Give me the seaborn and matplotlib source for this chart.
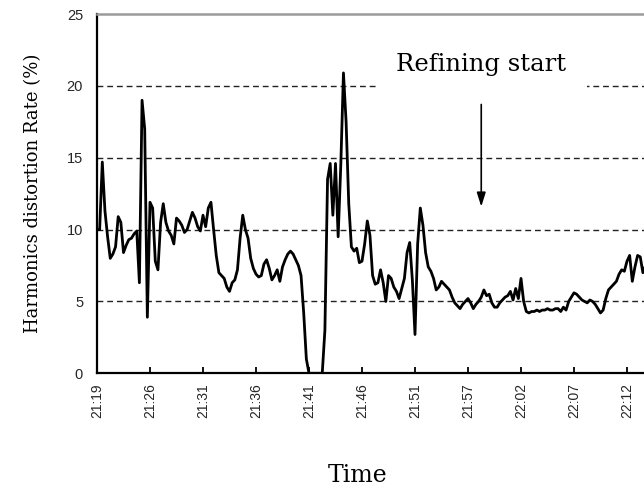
import numpy as np
import pandas as pd
import matplotlib
matplotlib.use("Agg")
import matplotlib.pyplot as plt
import seaborn as sns

# ---- data ----
tick_labels = ["21:19", "21:26", "21:31", "21:36", "21:41", "21:46",
               "21:51", "21:57", "22:02", "22:07", "22:12"]
samples_per_label = 20

distortion = [
    10.0, 10.0, 14.7, 11.3, 9.5, 8.0, 8.3, 8.8, 10.9, 10.5,
    8.4, 8.9, 9.3, 9.4, 9.7, 9.9, 6.3, 19.0, 17.0, 3.9,
    11.9, 11.5, 7.8, 7.2, 10.5, 11.8, 10.5, 9.9, 9.6, 9.0,
    10.8, 10.6, 10.3, 9.8, 10.0, 10.6, 11.2, 10.8, 10.2, 9.9,
    11.0, 10.2, 11.5, 11.9, 10.0, 8.2, 7.0, 6.8, 6.6, 6.0,
    5.7, 6.3, 6.5, 7.2, 9.4, 11.0, 10.0, 9.4, 8.0, 7.3,
    6.9, 6.7, 6.8, 7.6, 7.9, 7.3, 6.5, 6.8, 7.2, 6.4,
    7.4, 7.9, 8.3, 8.5, 8.3, 7.9, 7.5, 6.8, 4.2, 1.0,
    0.0, 0.0, 0.0, 0.0, 0.0, 0.0, 3.0, 13.5, 14.6, 11.0,
    14.6, 9.5, 14.5, 20.9, 17.5, 11.8, 8.8, 8.5, 8.7, 7.7,
    7.8, 9.0, 10.6, 9.6, 6.8, 6.2, 6.3, 7.2, 6.3, 5.0,
    6.8, 6.6, 6.0, 5.7, 5.2, 5.9, 6.6, 8.4, 9.1, 6.5,
    2.7, 9.0, 11.5, 10.3, 8.4, 7.4, 7.1, 6.6, 5.8, 6.0,
    6.4, 6.2, 6.0, 5.8, 5.3, 4.9, 4.7, 4.5, 4.8, 5.0,
    5.2, 4.9, 4.5, 4.8, 5.0, 5.3, 5.8, 5.4, 5.5, 4.9,
    4.6, 4.6, 4.9, 5.1, 5.3, 5.4, 5.7, 5.1, 5.9, 5.2,
    6.6, 5.0, 4.3, 4.2, 4.3, 4.3, 4.4, 4.3, 4.4, 4.4,
    4.5, 4.4, 4.4, 4.5, 4.5, 4.3, 4.6, 4.4, 5.0, 5.3,
    5.6, 5.5, 5.3, 5.1, 5.0, 4.9, 5.1, 5.0, 4.8, 4.5,
    4.2, 4.4, 5.2, 5.8, 6.0, 6.2, 6.4, 6.9, 7.2, 7.1,
    7.8, 8.2, 6.4, 7.4, 8.2, 8.1, 7.0, 7.5,
]
y_ticks = [0, 5, 10, 15, 20, 25]
grid_levels = [5, 10, 15, 20]
annotation_text = "Refining start"
annotation_index = 145  # sample where refining starts

df = pd.DataFrame({"sample": np.arange(len(distortion)), "rate": distortion})

# ---- figure ----
sns.set_theme(style="white")
plt.rcParams["font.family"] = ["Liberation Sans", "DejaVu Sans"]

W, H = 644, 491
fig = plt.figure(figsize=(W / 100, H / 100), dpi=100)
left_px, right_px, top_px, bottom_px = 97, 667, 14, 373.3
ax = fig.add_axes([left_px / W, 1 - bottom_px / H,
                   (right_px - left_px) / W, (bottom_px - top_px) / H])

for lv in grid_levels:
    ax.axhline(lv, color="#222222", lw=1.0, ls=(0, (4.2, 2.8)), zorder=1)

sns.lineplot(data=df, x="sample", y="rate", ax=ax, color="black",
             linewidth=2.0, zorder=3)

ax.set_xlim(0, (right_px - left_px) / 2.65)
ax.set_ylim(0, 25)
ax.set_yticks(y_ticks)
ax.set_yticklabels([str(v) for v in y_ticks], fontsize=10.5)
ax.set_xticks([i * samples_per_label for i in range(len(tick_labels))])
ax.set_xticklabels(tick_labels, rotation=90, fontsize=10)
ax.tick_params(axis="x", direction="in", length=4, width=1.3, color="black",
               pad=7, bottom=True)
ax.tick_params(axis="y", length=0, pad=10)

for s in ["left", "bottom"]:
    ax.spines[s].set_color("black")
    ax.spines[s].set_linewidth(1.6)
ax.spines["top"].set_color("#9a9a9a")
ax.spines["top"].set_linewidth(1.8)
ax.spines["right"].set_visible(False)

ax.set_xlabel("")
ax.set_ylabel("Harmonics distortion Rate (%)", family="DejaVu Serif",
              fontsize=13, labelpad=18, color="black")

ax.text(annotation_index, 21.0, annotation_text, family="DejaVu Serif",
        fontsize=17.5, ha="center", va="baseline", color="black", zorder=5,
        bbox=dict(boxstyle="square,pad=0.85", fc="white", ec="none"))
ax.annotate("", xy=(annotation_index, 11.4), xytext=(annotation_index, 18.9),
            arrowprops=dict(arrowstyle="-|>,head_length=0.7,head_width=0.22",
                            color="black", lw=1.2), zorder=6)

fig.text(358 / W, 1 - 482 / H, "Time", family="DejaVu Serif", fontsize=17,
         ha="center", va="baseline", color="black")

fig.savefig("out.png", dpi=100)
